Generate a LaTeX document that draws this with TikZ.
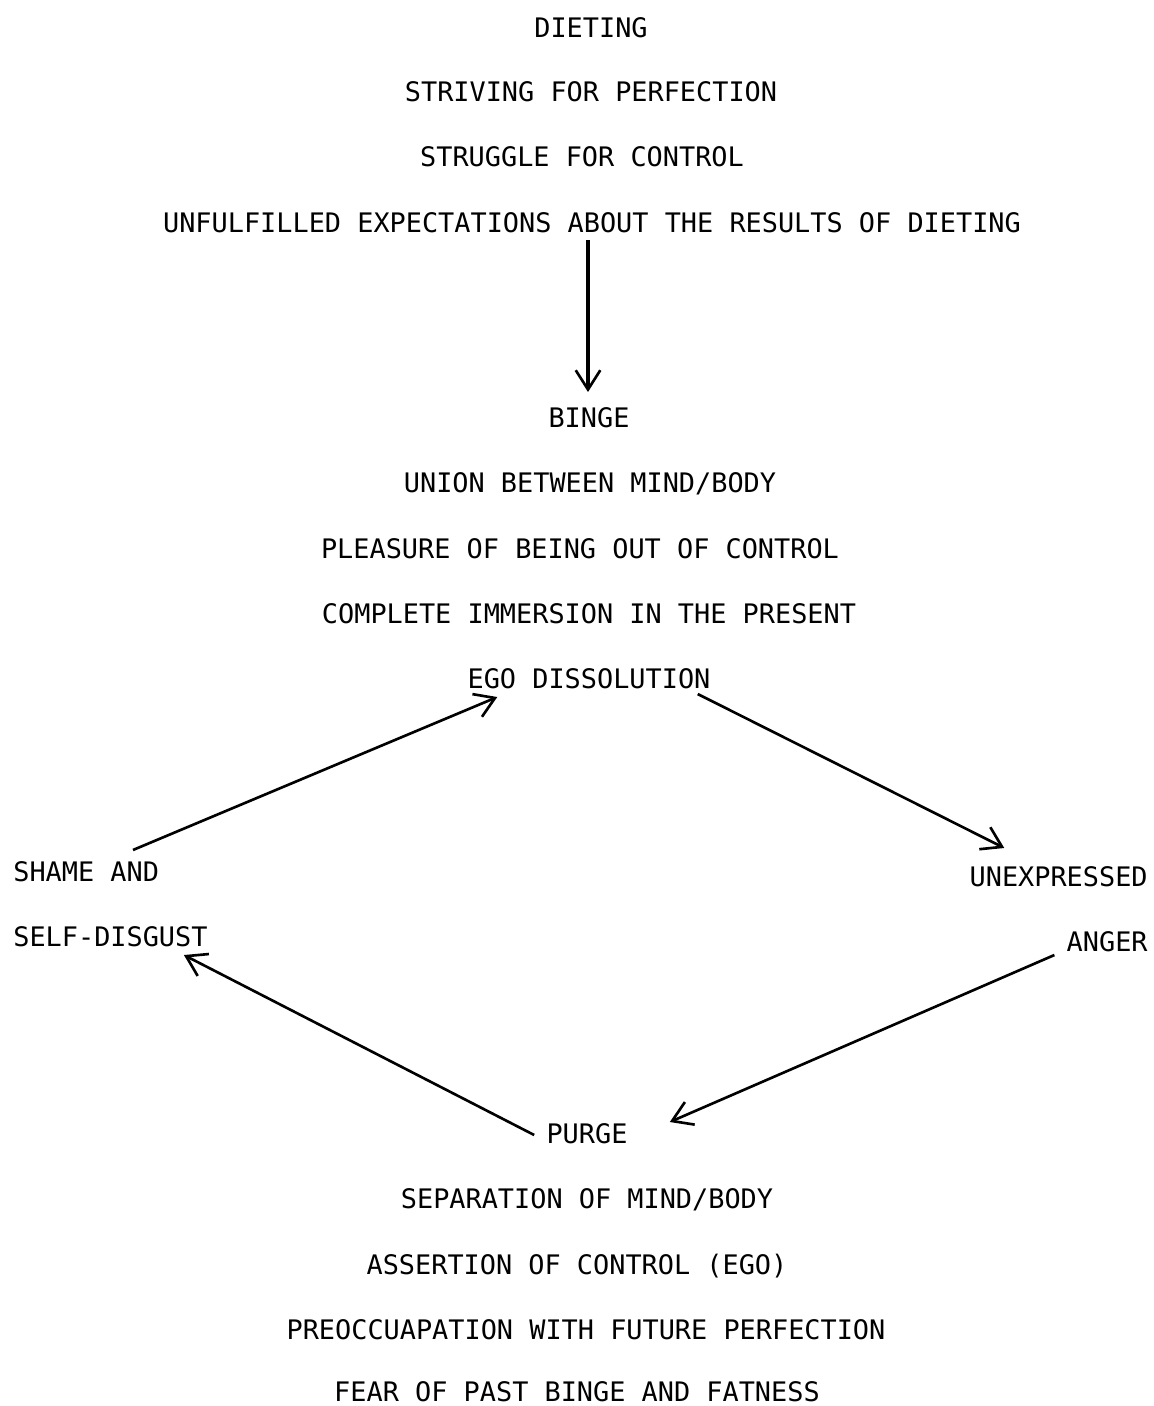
\documentclass[tikz,border=0pt]{standalone}
\usepackage{fontspec}
\setmonofont{DejaVu Sans Mono}
\usetikzlibrary{arrows.meta,calc}

\begin{document}
\begin{tikzpicture}[x=0.02cm,y=-0.02cm,
  txt/.style={font=\ttfamily\fontsize{15.3}{18}\selectfont,inner sep=0pt,text height=11pt,text depth=0pt},
  arr/.style={line width=1.5pt,-{Straight Barb[length=11pt,width=14pt,line width=1.5pt]}}]
\useasboundingbox (0,0) rectangle (1153,1406);
\node[txt] (diet) at (591,28) {DIETING};
\node[txt] (striv) at (591,92) {STRIVING FOR PERFECTION};
\node[txt] (strug) at (582,157) {STRUGGLE FOR CONTROL};
\node[txt] (unful) at (592,223) {UNFULFILLED EXPECTATIONS ABOUT THE RESULTS OF DIETING};
\node[txt] (binge) at (589,418) {BINGE};
\node[txt] (union) at (590,483) {UNION BETWEEN MIND/BODY};
\node[txt] (pleas) at (580,549) {PLEASURE OF BEING OUT OF CONTROL};
\node[txt] (immer) at (589,614) {COMPLETE IMMERSION IN THE PRESENT};
\node[txt] (ego) at (589,679) {EGO DISSOLUTION};
\node[txt,anchor=west] (shame) at (13,872) {SHAME AND};
\node[txt,anchor=west] (disg) at (13,937) {SELF-DISGUST};
\node[txt,anchor=east] (unexp) at (1148,877) {UNEXPRESSED};
\node[txt,anchor=east] (anger) at (1148,942) {ANGER};
\node[txt] (purge) at (587,1134) {PURGE};
\node[txt] (separ) at (587,1199) {SEPARATION OF MIND/BODY};
\node[txt] (asser) at (577,1265) {ASSERTION OF CONTROL (EGO)};
\node[txt] (preoc) at (586,1330) {PREOCCUAPATION WITH FUTURE PERFECTION};
\node[txt] (fear) at (577,1392) {FEAR OF PAST BINGE AND FATNESS};
\draw[arr,line width=2pt] ($(unful.south)+(-4,7)$) -- ($(binge.north)+(-1,-16)$);
\draw[arr] ($(shame.north west)+(120,-12)$) -- ($(ego.south west)+(30,8)$);
\draw[arr] ($(ego.south east)+(-13,5)$) -- ($(unexp.north west)+(35,-19)$);
\draw[arr] ($(anger.south west)+(-12,3)$) -- ($(purge.east)+(42,-12)$);
\draw[arr] ($(purge.west)+(-12,1)$) -- ($(disg.south east)+(-24,8)$);
\end{tikzpicture}
\end{document}
